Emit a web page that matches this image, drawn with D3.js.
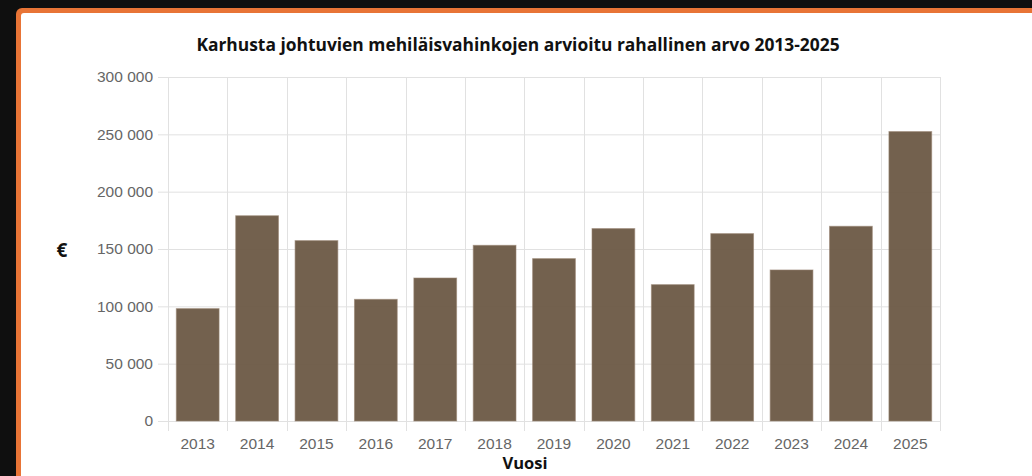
<!DOCTYPE html>
<html>
<head>
<meta charset="utf-8">
<script src="https://cdn.jsdelivr.net/npm/d3@7"></script>
<style>
  body { margin: 0; background: #0f0f0f; overflow: hidden; }
</style>
</head>
<body>
<script>
// data
const years = ["2013", "2014", "2015", "2016", "2017", "2018", "2019", "2020", "2021", "2022", "2023", "2024", "2025"];
const values = [98000, 179000, 157300, 106100, 124700, 153200, 141600, 167800, 118900, 163400, 131700, 169800, 252400];
const yTicks = [0, 50000, 100000, 150000, 200000, 250000, 300000];
const titleText = "Karhusta johtuvien mehiläisvahinkojen arvioitu rahallinen arvo 2013-2025";

const W = 1032, H = 476;
const svg = d3.select("body").append("svg").attr("width", W).attr("height", H);

// frame: orange border + white panel
svg.append("rect").attr("x", 16).attr("y", 8).attr("width", W + 20).attr("height", H + 20)
   .attr("rx", 6).attr("fill", "#e87436");
svg.append("rect").attr("x", 21).attr("y", 13).attr("width", W + 20).attr("height", H + 20)
   .attr("rx", 3).attr("fill", "#ffffff");

const plot = {left: 168, right: 940, top: 77, bottom: 421};

const x = d3.scaleBand().domain(years).range([plot.left, plot.right]).paddingInner(0.28).paddingOuter(0.14);
const xEdge = d3.scaleLinear().domain([0, years.length]).range([plot.left, plot.right]);
const y = d3.scaleLinear().domain([0, 300000]).range([plot.bottom, plot.top]);

const fmt = v => d3.format(",")(v).replace(/,/g, " ");
const grid = "#e1e1e1";

// horizontal grid + y tick marks
svg.append("g").selectAll("line").data(yTicks).enter().append("line")
   .attr("x1", plot.left - 10).attr("x2", plot.right)
   .attr("y1", d => y(d) + 0.5).attr("y2", d => y(d) + 0.5)
   .attr("stroke", grid).attr("stroke-width", 1);

// vertical grid at category edges
svg.append("g").selectAll("line").data(d3.range(years.length + 1)).enter().append("line")
   .attr("x1", d => Math.round(xEdge(d)) + 0.5).attr("x2", d => Math.round(xEdge(d)) + 0.5)
   .attr("y1", plot.top).attr("y2", plot.bottom + 10)
   .attr("stroke", grid).attr("stroke-width", 1);

// y tick labels
svg.append("g").selectAll("text").data(yTicks).enter().append("text")
   .attr("x", plot.left - 15).attr("y", d => y(d)).attr("dy", "0.35em")
   .attr("text-anchor", "end")
   .attr("font-family", "'Liberation Sans', Arial, sans-serif").attr("font-size", "15.5px")
   .attr("fill", "#666").text(fmt);

// bars
svg.append("g").selectAll("rect").data(values).enter().append("rect")
   .attr("x", (d, i) => x(years[i]))
   .attr("y", d => y(d))
   .attr("width", x.bandwidth())
   .attr("height", d => y(0) - y(d))
   .attr("fill", "rgba(106,87,67,0.94)")
   .attr("stroke", "rgba(150,130,112,0.6)").attr("stroke-width", 1);

// x tick labels
svg.append("g").selectAll("text").data(years).enter().append("text")
   .attr("x", d => x(d) + x.bandwidth() / 2).attr("y", 449)
   .attr("text-anchor", "middle")
   .attr("font-family", "'Liberation Sans', Arial, sans-serif").attr("font-size", "15.5px")
   .attr("fill", "#666").text(d => d);

// axis titles
svg.append("text").attr("x", 525).attr("y", 469).attr("text-anchor", "middle")
   .attr("font-family", "'Open Sans', sans-serif").attr("font-weight", "bold").attr("font-size", "16.5px")
   .attr("fill", "#111").text("Vuosi");

svg.append("text").attr("x", 62).attr("y", 250).attr("dy", "0.35em").attr("text-anchor", "middle")
   .attr("font-family", "'Open Sans', sans-serif").attr("font-weight", "bold").attr("font-size", "19px")
   .attr("fill", "#111").text("€");

// title
svg.append("text").attr("x", 518).attr("y", 51).attr("text-anchor", "middle")
   .attr("font-family", "'Open Sans', sans-serif").attr("font-weight", "bold").attr("font-size", "17.4px")
   .attr("fill", "#111").text(titleText);
</script>
</body>
</html>
